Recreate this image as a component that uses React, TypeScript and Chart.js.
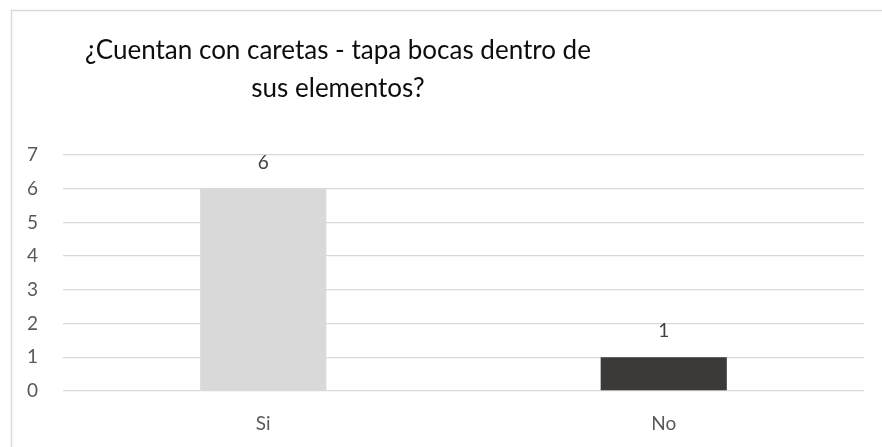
import React, { useEffect, useRef } from "react";
import { Chart, registerables } from "chart.js";

Chart.register(...registerables);

const titleLines = ["¿Cuentan con caretas - tapa bocas dentro de", "sus elementos?"];
const categories = ["Si", "No"];
const values = [6, 1];
const barColors = ["#d9d9d9", "#3b3a38"];
const yTicks = [0, 1, 2, 3, 4, 5, 6, 7];

const FONT = 'Lato, sans-serif';

export default function App() {
  const ref = useRef<HTMLCanvasElement | null>(null);

  useEffect(() => {
    document.body.style.margin = "0";
    const canvas = ref.current!;
    const borderPlugin = {
      id: "frame",
      beforeDraw(chart: any) {
        const ctx = chart.ctx;
        ctx.save();
        ctx.fillStyle = "#ffffff";
        ctx.fillRect(0, 0, chart.width, chart.height);
        ctx.strokeStyle = "#d9d9d9";
        ctx.lineWidth = 1.5;
        ctx.beginPath();
        ctx.moveTo(11.5, chart.height + 5);
        ctx.lineTo(11.5, 10.5);
        ctx.lineTo(chart.width + 5, 10.5);
        ctx.stroke();
        ctx.restore();
      },
      afterDraw(chart: any) {
        const ctx = chart.ctx;
        ctx.save();
        ctx.fillStyle = "#0d0d0d";
        ctx.font = `26px ${FONT}`;
        ctx.textAlign = "center";
        ctx.textBaseline = "middle";
        ctx.fillText(titleLines[0], 338, 51);
        ctx.fillText(titleLines[1], 338, 89);
        ctx.restore();
      },
    };
    const labelPlugin = {
      id: "vals",
      afterDatasetsDraw(chart: any) {
        const ctx = chart.ctx;
        const meta = chart.getDatasetMeta(0);
        ctx.save();
        ctx.fillStyle = "#404040";
        ctx.font = `19px ${FONT}`;
        ctx.textAlign = "center";
        ctx.textBaseline = "middle";
        meta.data.forEach((bar: any, i: number) => {
          ctx.fillText(String(values[i]), bar.x, bar.y - 26);
        });
        ctx.restore();
      },
    };
    const chart = new Chart(canvas, {
      type: "bar",
      data: {
        labels: categories,
        datasets: [
          {
            data: values,
            backgroundColor: barColors,
            borderWidth: 0,
            categoryPercentage: 1,
            barPercentage: 0.315,
          },
        ],
      },
      options: {
        animation: false,
        responsive: false,
        maintainAspectRatio: false,
        layout: { padding: { top: 155, right: 18, left: 0, bottom: 0 } },
        plugins: {
          legend: { display: false },
          tooltip: { enabled: false },
          title: { display: false },
        },
        scales: {
          x: {
            grid: { display: false, drawTicks: false },
            border: { display: false },
            ticks: { color: "#595959", font: { family: FONT, size: 19 }, padding: 21 },
            afterFit(scale: any) {
              scale.height = 56;
            },
          },
          y: {
            min: 0,
            max: 7,
            afterBuildTicks(scale: any) {
              scale.ticks = yTicks.map((v) => ({ value: v }));
            },
            grid: { color: "#d9d9d9", lineWidth: 1.3, drawTicks: false },
            border: { display: false },
            ticks: { color: "#595959", font: { family: FONT, size: 19 }, padding: 25 },
            afterFit(scale: any) {
              scale.width = 63;
            },
          },
        },
      },
      plugins: [borderPlugin, labelPlugin],
    });
    return () => chart.destroy();
  }, []);

  return (
    <div style={{ position: "fixed", left: 0, top: 0, width: 882, height: 447, background: "#fff" }}>
      <canvas ref={ref} width={882} height={447} style={{ display: "block" }} />
    </div>
  );
}
